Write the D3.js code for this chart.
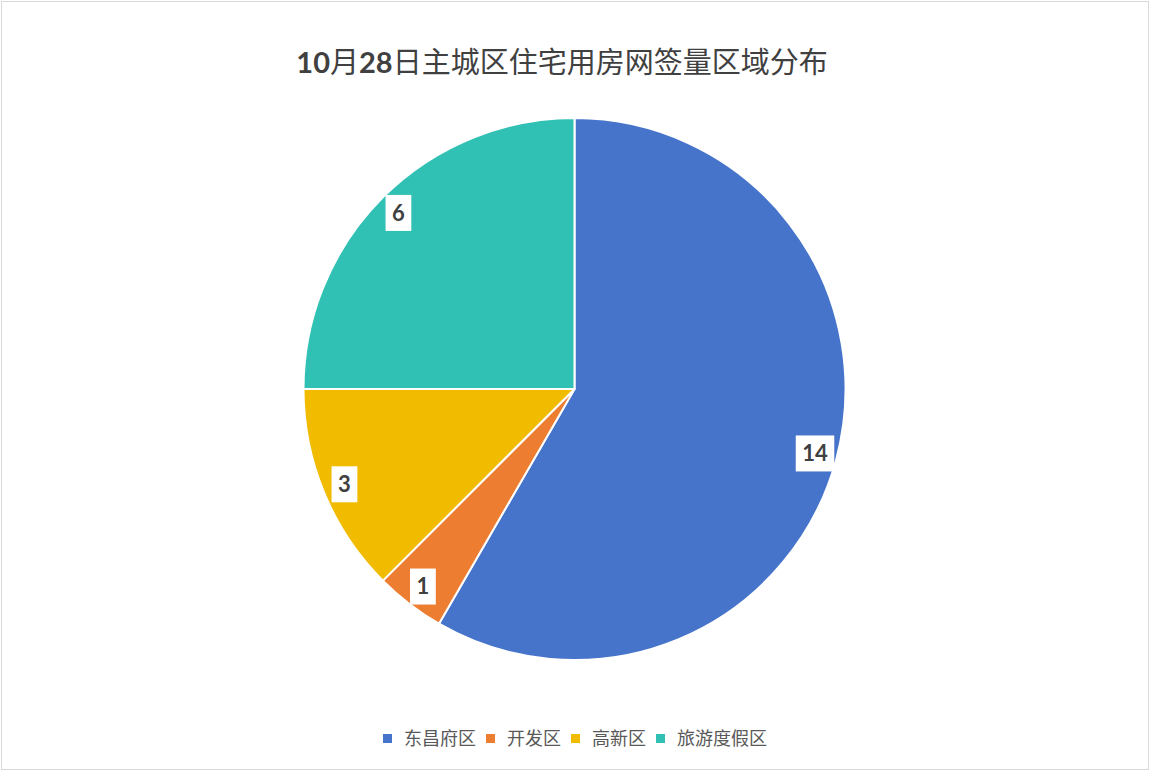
<!DOCTYPE html>
<html>
<head>
<meta charset="utf-8">
<script src="https://cdn.jsdelivr.net/npm/d3@7"></script>
<style>
  body { margin: 0; background: #fff; }
  svg { display: block; }
</style>
</head>
<body>
<svg id="chart"></svg>
<script>
var options = {
    width: 1150,
    height: 771,
    cx: 574.5,
    cy: 389,
    radius: 271,
    labelRadius: 249,
    titleX: 562,
    titleY: 73,
    legendY: 739
};

var title = "10月28日主城区住宅用房网签量区域分布";
var categories = ["东昌府区", "开发区", "高新区", "旅游度假区"];
var values = [14, 1, 3, 6];
var colors = ["#4674CA", "#ED7D31", "#F1BB00", "#31C1B4"];

var data = categories.map(function(c, i) {
    return { name: c, value: values[i], color: colors[i] };
});

var svg = d3.select('#chart')
    .attr('width', options.width)
    .attr('height', options.height);

svg.append('rect')
    .attr('x', 1.5).attr('y', 1.5)
    .attr('width', options.width - 3)
    .attr('height', options.height - 3)
    .style('fill', '#ffffff')
    .style('stroke', '#d9d9d9');

// title: digits bold latin, CJK regular
var titleText = svg.append('text')
    .attr('x', options.titleX)
    .attr('y', options.titleY)
    .style('text-anchor', 'middle')
    .style('fill', '#404040')
    .style('font-size', '29px');
var runs = title.match(/[0-9]+|[^0-9]+/g);
runs.forEach(function(r) {
    var isNum = /^[0-9]+$/.test(r);
    titleText.append('tspan')
        .style('font-family', isNum ? 'Lato, "Open Sans", sans-serif' : '"Noto Sans CJK SC", sans-serif')
        .style('font-weight', isNum ? 'bold' : 'normal')
        .text(r);
});

var pie = d3.pie().sort(null).value(function(d) { return d.value; });
var arc = d3.arc().innerRadius(0).outerRadius(options.radius);
var labelArc = d3.arc().innerRadius(options.labelRadius).outerRadius(options.labelRadius);

var plotG = svg.append('g')
    .attr('transform', 'translate(' + options.cx + ',' + options.cy + ')');

plotG.selectAll('.slice')
    .data(pie(data))
    .enter()
    .append('path')
    .attr('class', 'slice')
    .attr('d', arc)
    .style('fill', function(d) { return d.data.color; })
    .style('stroke', '#ffffff')
    .style('stroke-width', 2)
    .style('stroke-linejoin', 'round');

var labels = plotG.selectAll('.label')
    .data(pie(data))
    .enter()
    .append('g')
    .attr('class', 'label')
    .attr('transform', function(d) { return 'translate(' + labelArc.centroid(d) + ')'; });

labels.each(function(d) {
    var g = d3.select(this);
    var t = g.append('text')
        .attr('dy', '0.36em')
        .style('text-anchor', 'middle')
        .style('font-family', 'Lato, "Open Sans", sans-serif')
        .style('font-weight', 'bold')
        .style('font-size', '22px')
        .style('fill', '#404040')
        .text(d.data.value);
    var w = t.node().getComputedTextLength() + 13;
    g.insert('rect', 'text')
        .attr('x', -w / 2)
        .attr('y', -18)
        .attr('width', w)
        .attr('height', 36)
        .style('fill', '#ffffff');
});

// legend
var legendG = svg.append('g').attr('class', 'legend');
var items = legendG.selectAll('.legend-item')
    .data(data)
    .enter()
    .append('g')
    .attr('class', 'legend-item');

items.append('rect')
    .attr('x', 0)
    .attr('y', -5)
    .attr('width', 9)
    .attr('height', 9)
    .style('fill', function(d) { return d.color; });

items.append('text')
    .attr('x', 21)
    .attr('dy', '0.35em')
    .style('font-family', '"Noto Sans CJK SC", sans-serif')
    .style('font-size', '18px')
    .style('fill', '#595959')
    .text(function(d) { return d.name; });

var offsets = [];
var total = 0;
items.each(function(d, i) {
    var tw = d3.select(this).select('text').node().getComputedTextLength();
    offsets.push(total);
    total += 21 + tw + 10;
});
total -= 10;
var startX = options.width / 2 - total / 2;
items.attr('transform', function(d, i) {
    return 'translate(' + (startX + offsets[i]) + ',' + options.legendY + ')';
});
</script>
</body>
</html>
